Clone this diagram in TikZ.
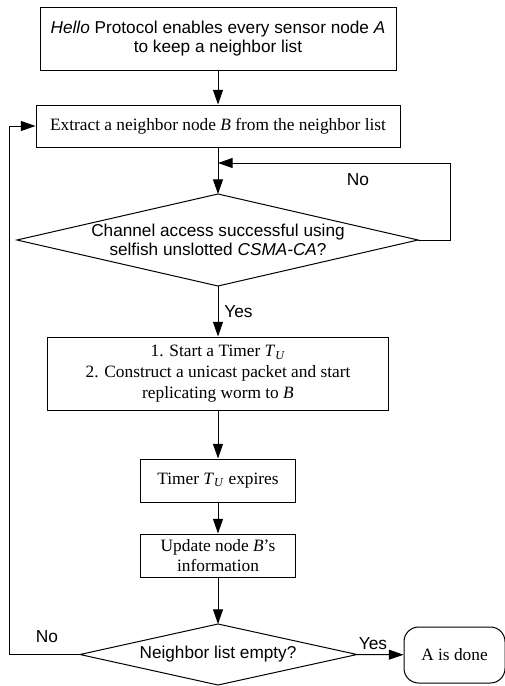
\documentclass[tikz,border=0pt]{standalone}
\usepackage{fontspec}
\setmainfont{Liberation Serif}
\setsansfont{Liberation Sans}
\usetikzlibrary{arrows.meta}
\newcommand{\tmrTU}{\textit{T}\textsubscript{\textit{U}}}
\tikzset{
  box/.style={draw, line width=0.75pt, inner sep=0pt, align=center, font=\fontsize{13}{15.5}\selectfont},
  sbox/.style={box, font=\sffamily\fontsize{12.9}{14.5}\selectfont},
  diatext/.style={inner sep=0pt, align=center, font=\sffamily\fontsize{12.9}{14.5}\selectfont},
  diaedge/.style={line width=0.75pt, line join=miter},
  line/.style={line width=0.75pt},
  conn/.style={line width=0.75pt, -{Triangle[length=11pt,width=7.5pt]}},
  lbl/.style={font=\sffamily\fontsize{13}{14}\selectfont, inner sep=0pt},
}
\begin{document}
\begin{tikzpicture}[x=0.75pt,y=-0.75pt]
\useasboundingbox (0,0) rectangle (505,686);
\node[sbox, minimum width=267pt, minimum height=47.25pt] (b1) at (218,38.5)
  {\textit{Hello} Protocol enables every sensor node \textit{A}\\to keep a neighbor list};
\node[box, minimum width=273pt, minimum height=31.5pt] (b2) at (218,126)
  {Extract a neighbor node \textit{B} from the neighbor list};
% diamond 1
\node[diatext] (d1) at (218,240) {Channel access successful using\\selfish unslotted \textit{CSMA-CA}?};
\coordinate (d1n) at (218,194);
\coordinate (d1s) at (218,286);
\coordinate (d1w) at (17,240);
\coordinate (d1e) at (418,240);
\draw[diaedge] (d1n) -- (d1e) -- (d1s) -- (d1w) -- cycle;
\node[box, minimum width=255.75pt, minimum height=54.75pt] (b3) at (218,373.5)
  {1. Start a Timer \tmrTU\\2. Construct a unicast packet and start\\replicating worm to \textit{B}};
\node[box, minimum width=116.25pt, minimum height=32.25pt] (b4) at (218,480.5)
  {Timer \tmrTU{} expires};
\node[box, minimum width=116.25pt, minimum height=32.25pt] (b5) at (218,555.5)
  {Update node \textit{B}'s\\information};
% diamond 2
\node[diatext] (d2) at (218,654.5) {Neighbor list empty?};
\coordinate (d2n) at (218,624);
\coordinate (d2s) at (218,685);
\coordinate (d2w) at (80,654.5);
\coordinate (d2e) at (357,654.5);
\draw[diaedge] (d2n) -- (d2e) -- (d2s) -- (d2w) -- cycle;
\node[box, rounded corners=11pt, minimum width=75.75pt, minimum height=42pt] (done) at (454.5,655)
  {A is done};
\coordinate (t1) at (218,163);
\coordinate (r1) at (450,240);
\coordinate (r2) at (450,163);
\coordinate (l1) at (9,654.5);
\coordinate (l2) at (9,126);
\draw[conn] (b1) -- (b2);
\draw[line] (b2) -- (t1);
\draw[conn] (t1) -- (d1n);
\draw[line] (d1e) -- (r1) -- (r2);
\draw[conn] (r2) -- (t1);
\draw[conn] (d1s) -- (b3);
\draw[conn] (b3) -- (b4);
\draw[conn] (b4) -- (b5);
\draw[conn] (b5) -- (d2n);
\draw[conn] (d2e) -- (done);
\draw[conn] (d2w) -- (l1) -- (l2) -- (b2.west);
\node[lbl] (no1) at (358,180) {No};
\node[lbl, anchor=west] (yes1) at (224,312) {Yes};
\node[lbl] (no2) at (47,637) {No};
\node[lbl] (yes2) at (373,644) {Yes};
\end{tikzpicture}
\end{document}
